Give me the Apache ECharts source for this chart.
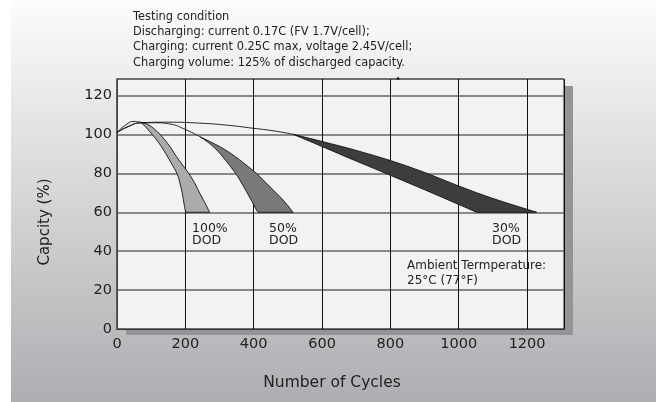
<!DOCTYPE html>
<html><head><meta charset="utf-8">
<script src="https://cdn.jsdelivr.net/npm/echarts@6/dist/echarts.min.js"></script>
<style>html,body{margin:0;padding:0;background:#fff}#c{width:656px;height:402px}</style>
</head><body><div id="c"></div>
<script>
// ---- data ----
const xTicks = [0, 200, 400, 600, 800, 1000, 1200];
const yTicks = [0, 20, 40, 60, 80, 100, 120];
// 100% DOD band: outer edge (tip -> bottom right) and inner edge (tip -> bottom left)
const band100OuterX = [69, 90, 110, 125, 140, 158, 174, 193, 211, 228, 242, 257, 271];
const band100OuterY = [106.3, 105.2, 102.7, 100.2, 97.2, 93, 88.6, 84, 79.7, 74.8, 69.8, 65, 60];
const band100InnerX = [69, 82, 96, 112, 130, 145, 159, 176, 184, 191, 197, 201];
const band100InnerY = [106.3, 104.2, 101.4, 98.2, 93.7, 89.5, 85.2, 79.7, 75, 69.8, 63.5, 60];
// 50% DOD band
const band50OuterX = [242, 270, 301, 330, 359, 385, 408, 447, 486, 515];
const band50OuterY = [98.9, 96.5, 93.7, 90.6, 86.9, 83.3, 80, 73.2, 66.3, 60];
const band50InnerX = [242, 256, 270, 285, 301, 320, 340, 358, 379, 395, 408, 413];
const band50InnerY = [98.9, 97.3, 95.5, 93.2, 90.3, 86.2, 81.7, 77, 70.6, 65.5, 61.2, 60];
// 30% DOD band
const band30OuterX = [515, 600, 700, 800, 900, 1000, 1100, 1228];
const band30OuterY = [100.1, 96.4, 91.8, 86.6, 80.5, 73.5, 67.1, 60];
const band30InnerX = [515, 600, 700, 800, 900, 1000, 1052];
const band30InnerY = [100.1, 93.8, 86.3, 79, 71.6, 64, 60];
// thin rising curves from the start point
const rise100X = [0, 25, 50, 69];
const rise100Y = [101, 104.8, 106.7, 106.3];
const rise50X = [0, 30, 69, 110, 154, 203, 242];
const rise50Y = [101, 103.9, 105.9, 106.0, 105.4, 102.3, 98.9];
const rise30X = [0, 35, 69, 150, 242, 320, 398, 460, 515];
const rise30Y = [101, 104.2, 106.0, 106.3, 105.8, 104.8, 103.2, 101.8, 100.1];

const titleLines = [
  'Testing condition',
  'Discharging: current 0.17C (FV 1.7V/cell);',
  'Charging: current 0.25C max, voltage 2.45V/cell;',
  'Charging volume: 125% of discharged capacity.'
];
const xName = 'Number of Cycles';
const yName = 'Capcity (%)';
const notes = ['100%\nDOD', '50%\nDOD', '30%\nDOD', 'Ambient Termperature:\n25°C (77°F)'];

// ---- chart ----
const FONT = 'DejaVu Sans';
const chart = echarts.init(document.getElementById('c'), null, {renderer: 'canvas'});

// smooth path through pixel points (Catmull-Rom -> cubic Bezier)
function smoothSegs(p) {
  let d = '';
  const n = p.length;
  for (let i = 0; i < n - 1; i++) {
    const p0 = p[Math.max(i - 1, 0)], p1 = p[i], p2 = p[i + 1], p3 = p[Math.min(i + 2, n - 1)];
    const c1 = [p1[0] + (p2[0] - p0[0]) / 6, p1[1] + (p2[1] - p0[1]) / 6];
    const c2 = [p2[0] - (p3[0] - p1[0]) / 6, p2[1] - (p3[1] - p1[1]) / 6];
    d += ' C' + c1[0].toFixed(2) + ' ' + c1[1].toFixed(2) + ' ' + c2[0].toFixed(2) + ' ' + c2[1].toFixed(2) + ' ' + p2[0].toFixed(2) + ' ' + p2[1].toFixed(2);
  }
  return d;
}

function bandSeries(ox, oy, ix, iy, color) {
  return {
    type: 'custom',
    coordinateSystem: 'cartesian2d',
    silent: true,
    z: 3,
    data: ox.map((x, i) => [x, oy[i]]).concat(ix.map((x, i) => [x, iy[i]])),
    encode: {x: 0, y: 1},
    renderItem: function (params, api) {
      if (params.dataIndex !== 0) return;
      const outer = ox.map((x, i) => api.coord([x, oy[i]]));
      const inner = ix.map((x, i) => api.coord([x, iy[i]])).reverse();
      let d = 'M' + outer[0][0].toFixed(2) + ' ' + outer[0][1].toFixed(2) + smoothSegs(outer);
      d += ' L' + inner[0][0].toFixed(2) + ' ' + inner[0][1].toFixed(2) + smoothSegs(inner) + ' Z';
      return {
        type: 'path',
        shape: {pathData: d},
        style: {fill: color, stroke: '#111', lineWidth: 0.9}
      };
    }
  };
}
function riseSeries(xs, ys) {
  return {
    type: 'line', smooth: true, symbol: 'none', silent: true, z: 4,
    data: xs.map((x, i) => [x, ys[i]]),
    lineStyle: {color: '#111', width: 0.9}
  };
}

const noteStyle = {fill: '#222', font: '12.5px "' + FONT + '"', lineHeight: 12.5, verticalAlign: 'top'};

chart.setOption({
  animation: false,
  backgroundColor: '#ffffff',
  grid: {
    left: 117, right: 92, top: 79, bottom: 73,
    show: true, backgroundColor: '#f2f2f2', borderColor: '#222', borderWidth: 1
  },
  xAxis: {
    type: 'value', min: 0, max: 1308, interval: 200,
    axisLine: {show: true, lineStyle: {color: '#333', width: 1.2}},
    axisTick: {show: false},
    axisLabel: {color: '#222', fontFamily: FONT, fontSize: 14.5, margin: 8, showMaxLabel: false,
      formatter: v => (xTicks.indexOf(v) >= 0 ? String(v) : '')},
    splitLine: {show: true, lineStyle: {color: '#111', width: 1}}
  },
  yAxis: {
    type: 'value', min: 0, max: 128.5, interval: 20,
    axisLine: {show: true, lineStyle: {color: '#555', width: 1.5}},
    axisTick: {show: false},
    axisLabel: {color: '#222', fontFamily: FONT, fontSize: 14.5, margin: 5, showMaxLabel: false,
      formatter: v => (yTicks.indexOf(v) >= 0 ? String(v) : '')},
    splitLine: {show: true, lineStyle: {color: '#666', width: 1.5}}
  },
  graphic: [
    {type: 'rect', z: -20, silent: true, shape: {x: 11, y: 0, width: 645, height: 402},
      style: {fill: new echarts.graphic.LinearGradient(0, 0, 0, 1, [
        {offset: 0, color: '#fcfcfc'}, {offset: 1, color: '#adaeb1'}])}},
    {type: 'rect', z: -10, silent: true, shape: {x: 126, y: 86, width: 447, height: 249},
      style: {fill: '#939497'}},
    {type: 'polygon', z: 10, silent: true, shape: {points: [[396, 79.5], [398, 76.5], [400, 79.5]]},
      style: {fill: '#111'}},
    {type: 'text', x: 133, y: 9, silent: true,
      style: {text: titleLines.join('\n'), fill: '#222', font: '11.4px "' + FONT + '"', lineHeight: 15.4, verticalAlign: 'top'}},
    {type: 'text', x: 332, y: 383, silent: true,
      style: {text: xName, fill: '#222', font: '15.5px "' + FONT + '"', align: 'center', verticalAlign: 'middle'}},
    {type: 'text', x: 45, y: 222, rotation: Math.PI / 2, silent: true,
      style: {text: yName, fill: '#222', font: '15px "' + FONT + '"', align: 'center', verticalAlign: 'middle'}},
    {type: 'text', x: 192, y: 222, silent: true, style: Object.assign({}, noteStyle, {text: notes[0]})},
    {type: 'text', x: 269, y: 222, silent: true, style: Object.assign({}, noteStyle, {text: notes[1]})},
    {type: 'text', x: 492, y: 222, silent: true, style: Object.assign({}, noteStyle, {text: notes[2]})},
    {type: 'text', x: 407, y: 258, silent: true,
      style: Object.assign({}, noteStyle, {text: notes[3], font: '12px "' + FONT + '"', lineHeight: 15})}
  ],
  series: [
    bandSeries(band30OuterX, band30OuterY, band30InnerX, band30InnerY, '#3d3d3d'),
    bandSeries(band50OuterX, band50OuterY, band50InnerX, band50InnerY, '#7a7a7a'),
    bandSeries(band100OuterX, band100OuterY, band100InnerX, band100InnerY, '#ababab'),
    riseSeries(rise30X, rise30Y),
    riseSeries(rise50X, rise50Y),
    riseSeries(rise100X, rise100Y)
  ]
});
</script>
</body></html>
